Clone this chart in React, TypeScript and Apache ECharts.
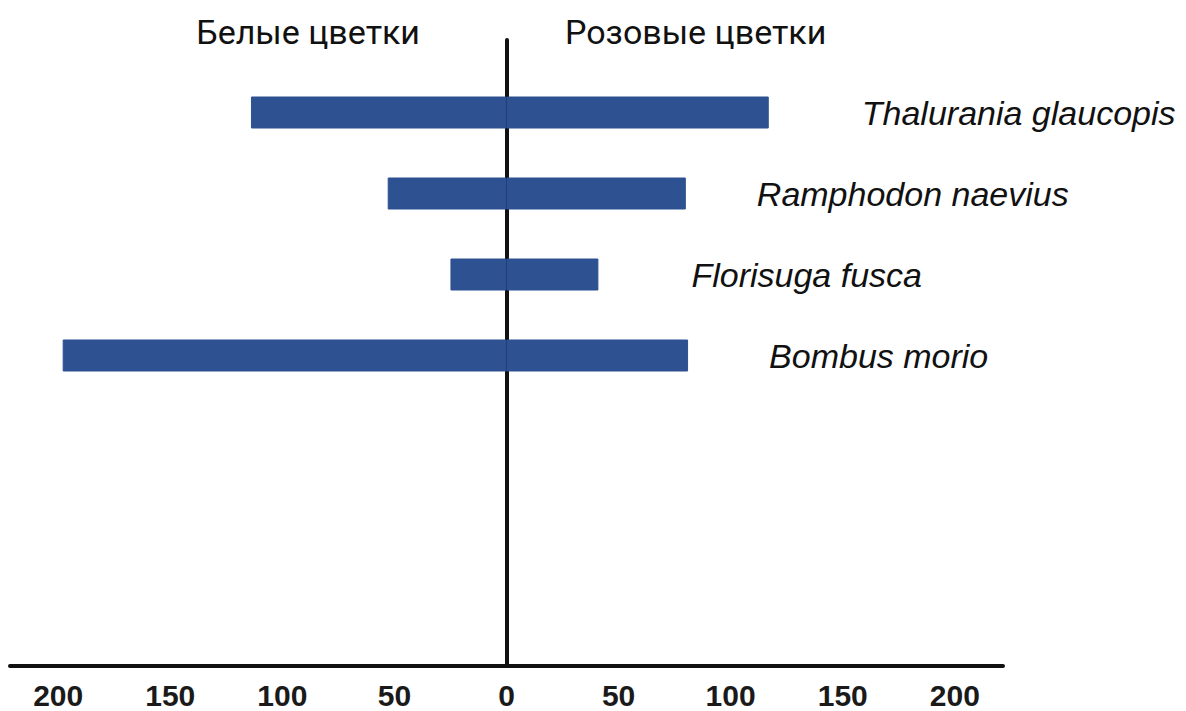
import React, { useEffect, useRef } from "react";
import * as echarts from "echarts";

const categories = [
  "Thalurania glaucopis",
  "Ramphodon naevius",
  "Florisuga fusca",
  "Bombus morio",
];
// visits to white flowers (drawn to the left) and pink flowers (to the right)
const whiteFlowers = [114, 53, 25, 198];
const pinkFlowers = [117, 80, 41, 81];
const tickValues = [-200, -150, -100, -50, 0, 50, 100, 150, 200];
const headerLeft = "Белые цветки";
const headerRight = "Розовые цветки";

// styling only
const labelGaps = [93, 71, 93, 81];
const BAR_COLOR = "#2d5191";
const AXIS_MIN = -221.5;
const AXIS_MAX = 221.5;

export default function App() {
  const ref = useRef<HTMLDivElement>(null);
  useEffect(() => {
    if (!ref.current) return;
    const chart = echarts.init(ref.current, null, { renderer: "svg" });
    const barStyle = { color: BAR_COLOR, borderColor: BAR_COLOR, borderWidth: 1 };
    const option: any = {
      animation: false,
      backgroundColor: "#ffffff",
      grid: [
        { left: 10, right: 183, top: 72, height: 324 },
        { left: 10, right: 183, top: 40, bottom: 45 },
      ],
      xAxis: [
        { gridIndex: 0, type: "value", min: AXIS_MIN, max: AXIS_MAX, show: false },
        {
          gridIndex: 1,
          type: "value",
          min: AXIS_MIN,
          max: AXIS_MAX,
          axisLine: { show: true, onZero: false, lineStyle: { color: "#111", width: 4 } },
          axisTick: { show: false },
          splitLine: { show: false },
          axisLabel: {
            customValues: tickValues,
            formatter: (v: number) => String(Math.abs(v)),
            fontSize: 30,
            fontWeight: "bold",
            fontFamily: "Liberation Sans",
            color: "#1a1a1a",
            margin: 14,
          },
        },
      ],
      yAxis: [
        { gridIndex: 0, type: "category", data: categories, inverse: true, show: false },
        {
          gridIndex: 1,
          type: "value",
          min: 0,
          max: 1,
          axisLine: { show: true, onZero: true, lineStyle: { color: "#111", width: 4 } },
          axisTick: { show: false },
          axisLabel: { show: false },
          splitLine: { show: false },
        },
      ],
      series: [
        {
          name: headerLeft,
          type: "bar",
          xAxisIndex: 0,
          yAxisIndex: 0,
          stack: "total",
          barWidth: 32,
          itemStyle: barStyle,
          data: whiteFlowers.map((v) => -v),
          z: 5,
        },
        {
          name: headerRight,
          type: "bar",
          xAxisIndex: 0,
          yAxisIndex: 0,
          stack: "total",
          barWidth: 32,
          itemStyle: barStyle,
          data: pinkFlowers.map((v, i) => ({
            value: v,
            label: { distance: labelGaps[i] },
          })),
          label: {
            show: true,
            position: "right",
            formatter: "{b}",
            fontStyle: "italic",
            fontSize: 34,
            fontFamily: "Liberation Sans",
            color: "#111",
          },
          z: 5,
        },
      ],
      graphic: [
        {
          type: "text",
          x: 420,
          y: 32,
          style: {
            text: headerLeft,
            textAlign: "right",
            textVerticalAlign: "middle",
            fontSize: 34,
            fontFamily: "Roboto",
            fill: "#111",
          },
        },
        {
          type: "text",
          x: 565,
          y: 32,
          style: {
            text: headerRight,
            textAlign: "left",
            textVerticalAlign: "middle",
            fontSize: 34,
            fontFamily: "Roboto",
            fill: "#111",
          },
        },
      ],
    };
    chart.setOption(option);
    return () => chart.dispose();
  }, []);
  return (
    <div
      ref={ref}
      style={{ position: "fixed", left: 0, top: 0, width: 1186, height: 711 }}
    />
  );
}
